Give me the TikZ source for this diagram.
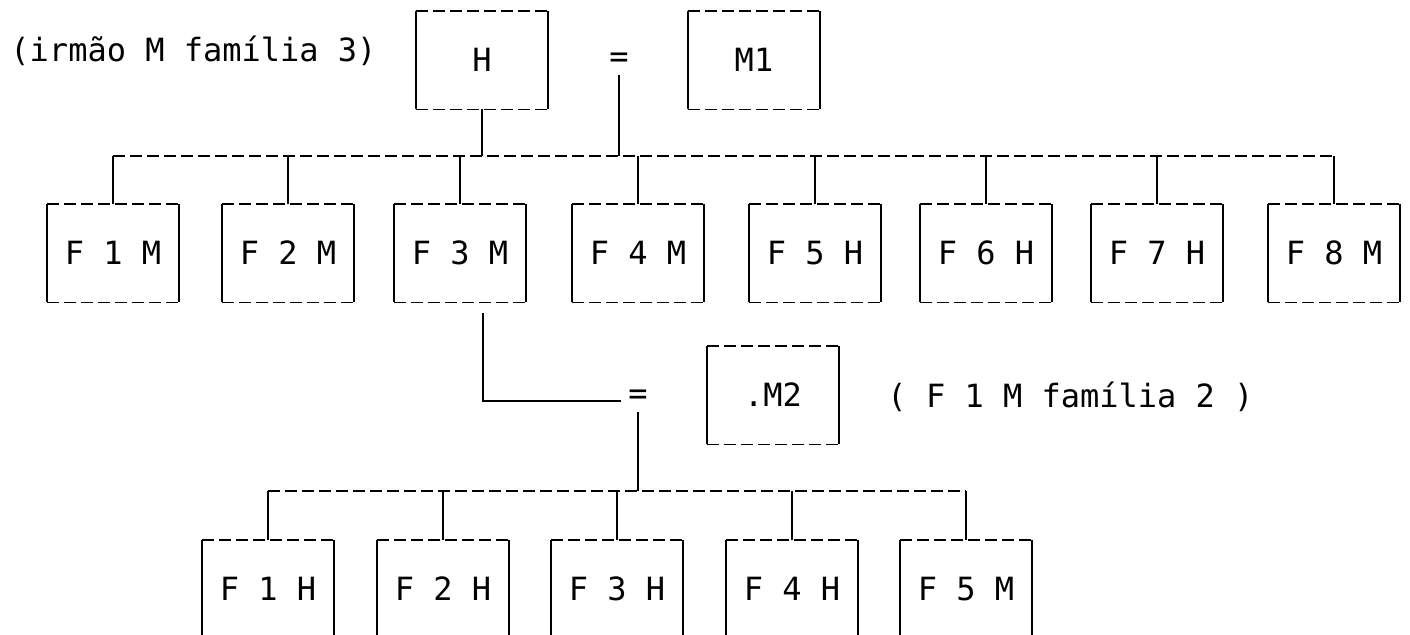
\documentclass[tikz,border=0pt]{standalone}
\usepackage{fontspec}
\setmainfont{DejaVu Sans Mono}
\begin{document}
\begin{tikzpicture}[x=0.5pt, y=-0.5pt, line width=0.8pt,
    every node/.style={font=\fontsize{16}{19}\selectfont},
    hdash/.style={dash pattern=on 6pt off 2.5pt},
    card/.style={minimum width=65pt, minimum height=48.5pt, inner sep=0pt,
      append after command={
        (\tikzlastnode.north west) edge[hdash] (\tikzlastnode.north east)
        (\tikzlastnode.south west) edge[hdash] (\tikzlastnode.south east)
        (\tikzlastnode.north west) edge (\tikzlastnode.south west)
        (\tikzlastnode.north east) edge (\tikzlastnode.south east)}}]
      \useasboundingbox (0,0) rectangle (1410,634);
      \clip (0,0) rectangle (1410,634);
      \node[anchor=west] (note1) at (3,51) {(irmão M família 3)};
      \node[card] (h) at (482,60) {H};
      \node (eq1) at (619,60) {=};
      \node[card] (m1) at (754,60) {M1};
      \node[card] (f1m) at (113,253) {F 1 M};
      \node[card] (f2m) at (288,253) {F 2 M};
      \node[card] (f3m) at (460,253) {F 3 M};
      \node[card] (f4m) at (638,253) {F 4 M};
      \node[card] (f5h) at (815,253) {F 5 H};
      \node[card] (f6h) at (986,253) {F 6 H};
      \node[card] (f7h) at (1157,253) {F 7 H};
      \node[card] (f8m) at (1334,253) {F 8 M};
      \node (eq2) at (638,397) {=};
      \node[card] (m2) at (773,395) {.M2};
      \node[anchor=west] (note2) at (880,397) {( F 1 M família 2 )};
      \node[card] (f1h) at (268,589) {F 1 H};
      \node[card] (f2h) at (443,589) {F 2 H};
      \node[card] (f3h) at (617,589) {F 3 H};
      \node[card] (f4h) at (792,589) {F 4 H};
      \node[card] (f5m) at (966,589) {F 5 M};
      \coordinate (bar1) at (0,156);
      \coordinate (bar2) at (0,491);
      \coordinate (tail) at (483,313);
      \coordinate (knee) at (483,401);
      \begin{scope}[-]
        \draw[hdash] (f1m.north |- bar1) to (f8m.north |- bar1);
        \draw (h.south) to (h.south |- bar1);
        \draw (eq1.south) to (eq1.south |- bar1);
        \draw (f1m.north) to (f1m.north |- bar1);
        \draw (f2m.north) to (f2m.north |- bar1);
        \draw (f3m.north) to (f3m.north |- bar1);
        \draw (f4m.north) to (f4m.north |- bar1);
        \draw (f5h.north) to (f5h.north |- bar1);
        \draw (f6h.north) to (f6h.north |- bar1);
        \draw (f7h.north) to (f7h.north |- bar1);
        \draw (f8m.north) to (f8m.north |- bar1);
        \draw[line width=1.3pt] (tail) to (knee) to (knee -| eq2.west);
        \draw[hdash] (f1h.north |- bar2) to (f5m.north |- bar2);
        \draw (eq2.south) to (eq2.south |- bar2);
        \draw (f1h.north) to (f1h.north |- bar2);
        \draw (f2h.north) to (f2h.north |- bar2);
        \draw (f3h.north) to (f3h.north |- bar2);
        \draw (f4h.north) to (f4h.north |- bar2);
        \draw (f5m.north) to (f5m.north |- bar2);
      \end{scope}
    \end{tikzpicture}
\end{document}
